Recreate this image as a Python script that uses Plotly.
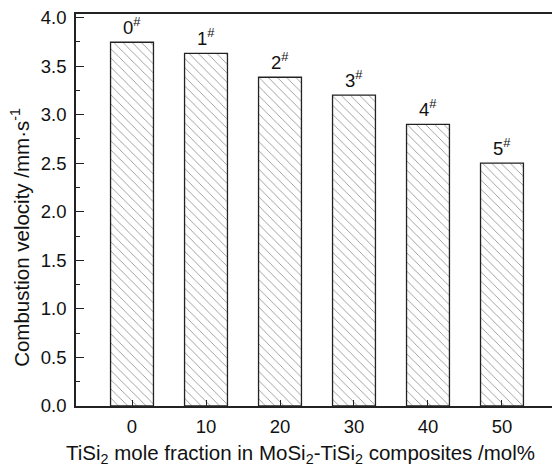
import plotly.graph_objects as go

categories = [0, 10, 20, 30, 40, 50]
velocity = [3.745, 3.63, 3.385, 3.2, 2.9, 2.5]
labels = ["0", "1", "2", "3", "4", "5"]
y_ticks = [0.0, 0.5, 1.0, 1.5, 2.0, 2.5, 3.0, 3.5, 4.0]
x_title = "TiSi<sub>2</sub> mole fraction in MoSi<sub>2</sub>-TiSi<sub>2</sub> composites /mol%"
y_title = "Combustion velocity /mm·s<sup>-1</sup>"

fig = go.Figure()
fig.add_trace(go.Bar(
    x=categories, y=velocity, width=5.8,
    marker=dict(color="white",
                line=dict(color="#222", width=1.3),
                pattern=dict(shape="\\", size=6.5, solidity=0.13,
                             fgcolor="#222", bgcolor="white")),
))

font = dict(family="Liberation Sans, Arial", size=18.5, color="#111")
tfont = dict(family="Liberation Sans, Arial", size=20.5, color="#111")
for c, v, l in zip(categories, velocity, labels):
    fig.add_annotation(x=c, y=v, text=l + "<sup>#</sup>", showarrow=False,
                       xanchor="center", yanchor="bottom", yshift=2,
                       font=font)

fig.add_annotation(xref="paper", yref="paper", x=0.4706, y=0, text=x_title,
                   showarrow=False, xanchor="center", yanchor="top",
                   yshift=-33, font=tfont)
fig.add_annotation(xref="paper", yref="paper", x=0, y=0.429, text=y_title,
                   showarrow=False, xanchor="center", yanchor="middle",
                   textangle=-90, xshift=-56, font=tfont)

fig.update_layout(
    width=552, height=467,
    margin=dict(l=76, r=0, t=14, b=61),
    plot_bgcolor="white", paper_bgcolor="white",
    showlegend=False, font=font,
    xaxis=dict(range=[-7.57, 56.76], tickvals=categories,
               ticktext=[str(c) for c in categories],
               ticks="inside", ticklen=6, tickwidth=1.2, tickcolor="#222",
               ticklabelstandoff=3,
               showline=True, linecolor="#222", linewidth=1.5, mirror=True,
               showgrid=False, zeroline=False),
    yaxis=dict(range=[0, 4.036], tickvals=y_ticks,
               ticktext=["%.1f" % v for v in y_ticks],
               ticks="inside", ticklen=8, tickwidth=1.2, tickcolor="#222",
               ticklabelstandoff=4,
               minor=dict(ticks="inside", ticklen=4, dtick=0.25, tick0=0,
                          tickcolor="#222", tickwidth=1.2, showgrid=False),
               showline=True, linecolor="#222", linewidth=1.5, mirror=False,
               showgrid=False, zeroline=False),
)

fig.write_html("out.html")
